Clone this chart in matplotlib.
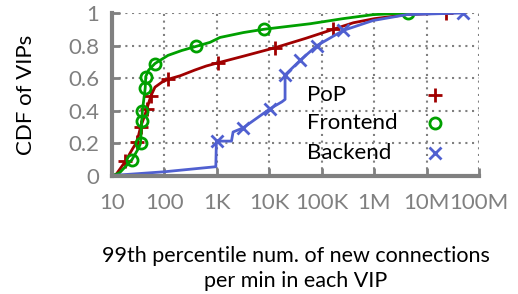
import matplotlib
matplotlib.use("Agg")
import matplotlib.pyplot as plt

plt.rcParams["font.family"] = ["Lato", "DejaVu Sans"]

# CDF curves (x = new connections / min, y = CDF)
pop_x = [10, 12, 18, 25, 30, 35, 42, 46, 55, 66, 89, 117, 200, 380, 630, 1070, 3200, 12900, 50000, 166000, 400000, 1e6, 4.2e6, 2.3e7]
pop_y = [0, 0.01, 0.09, 0.17, 0.21, 0.30, 0.37, 0.41, 0.49, 0.545, 0.575, 0.593, 0.615, 0.65, 0.675, 0.695, 0.735, 0.787, 0.845, 0.90, 0.94, 0.965, 0.99, 1.0]
pop_mx = [18, 30, 35, 46, 55, 117, 1070, 12900, 166000, 2.3e7]
pop_my = [0.09, 0.21, 0.30, 0.41, 0.49, 0.593, 0.695, 0.787, 0.90, 1.0]

fe_x = [10, 14, 24, 32, 35, 37, 38, 43, 44, 50, 66, 117, 214, 400, 740, 1150, 3200, 7800, 60000, 250000, 955000, 4.4e6]
fe_y = [0, 0.02, 0.10, 0.17, 0.20, 0.34, 0.40, 0.54, 0.61, 0.65, 0.69, 0.74, 0.77, 0.795, 0.82, 0.85, 0.88, 0.90, 0.934, 0.965, 0.99, 1.0]
fe_mx = [24, 35, 37, 38, 43, 44, 66, 400, 7800, 4.4e6]
fe_my = [0.10, 0.20, 0.34, 0.40, 0.54, 0.61, 0.69, 0.795, 0.90, 1.0]

be_x = [10, 100, 955, 980, 1900, 2040, 3160, 10500, 17400, 20000, 20000, 39000, 81000, 257000, 955000, 4.2e6, 4.9e7]
be_y = [0.003, 0.026, 0.057, 0.214, 0.214, 0.27, 0.295, 0.414, 0.455, 0.47, 0.62, 0.71, 0.80, 0.893, 0.954, 0.99, 1.0]
be_mx = [1000, 3160, 10500, 20000, 39000, 81000, 257000, 4.9e7]
be_my = [0.214, 0.295, 0.414, 0.62, 0.71, 0.80, 0.893, 1.0]

series = ["PoP", "Frontend", "Backend"]
xticks = [10, 100, 1e3, 1e4, 1e5, 1e6, 1e7, 1e8]
xlabels = ["10", "100", "1K", "10K", "100K", "1M", "10M", "100M"]
yticks = [0, 0.2, 0.4, 0.6, 0.8, 1]
ylabels = ["0", "0.2", "0.4", "0.6", "0.8", "1"]

red, green, blue, gray = "#a00000", "#00a000", "#5060d0", "#808080"
styles = [dict(marker="+", ms=10, mew=2, color=red),
          dict(marker="o", ms=8, mew=2, mfc="none", color=green),
          dict(marker="x", ms=9, mew=2, color=blue)]

fig = plt.figure(figsize=(5.18, 2.94), dpi=100)
ax = fig.add_axes([112/518, 1-176/294, (479-112)/518, (176-13)/294])
ax.set_xscale("log")

for (lx, ly, mx, my), st in zip([(pop_x, pop_y, pop_mx, pop_my), (fe_x, fe_y, fe_mx, fe_my), (be_x, be_y, be_mx, be_my)], styles):
    ax.plot(lx, ly, color=st["color"], lw=2)
    ax.plot(mx, my, ls="none", **st)

ax.set_xlim(10, 1e8); ax.set_ylim(0, 1)
ax.set_xticks(xticks); ax.set_xticklabels(xlabels)
ax.set_yticks(yticks); ax.set_yticklabels(ylabels)
ax.minorticks_off()
ax.grid(True, ls=(0, (1, 2.2)), color=gray, lw=1.5)
for s in ["top", "right"]: ax.spines[s].set_visible(False)
for s in ["left", "bottom"]: ax.spines[s].set_color(gray); ax.spines[s].set_linewidth(3)
ax.tick_params(direction="in", length=6, width=2, color=gray, labelcolor=gray, labelsize=16)
ax.tick_params(axis="x", pad=12); ax.tick_params(axis="y", pad=9)
ax.set_ylabel("CDF of VIPs", fontsize=16, va="center")
ax.yaxis.set_label_coords(-0.235, 0.5)
ax.set_xlabel("99th percentile num. of new connections\nper min in each VIP", fontsize=15.5, va="top", linespacing=1.3)
ax.xaxis.set_label_coords(0.5, -0.43)

# key: left-aligned names with the marker to the right, as in the original
for i, (name, st) in enumerate(zip(series, styles)):
    yk = [0.497, 0.325, 0.141][i]
    ax.text(0.531, yk, name, transform=ax.transAxes, va="center", ha="left", fontsize=16)
    ax.plot([0.88], [yk], transform=ax.transAxes, ls="none", clip_on=False, **st)

fig.savefig("out.png", dpi=100)
